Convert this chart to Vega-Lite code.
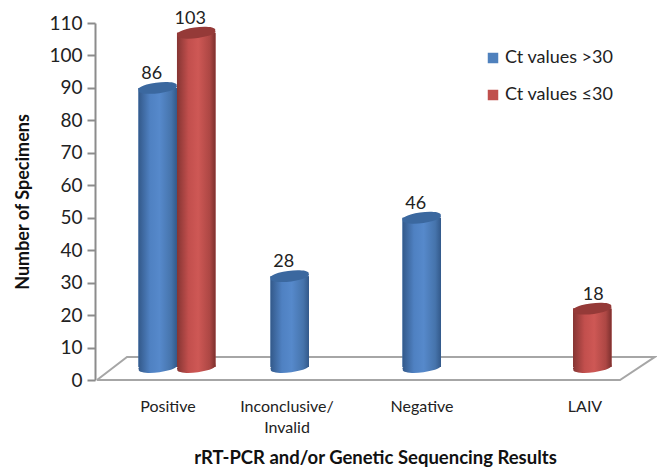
{
"$schema":"https://vega.github.io/schema/vega-lite/v6.json",
"width":560,"height":357,"autosize":{"type":"none"},
"padding":{"left":95,"top":23,"right":2,"bottom":88},
"background":"white",
"config":{"view":{"stroke":null},"font":"Lato"},
"datasets":{
"bars":[
{"result":"Positive","series":"Ct values >30","value":86},
{"result":"Positive","series":"Ct values ≤30","value":103},
{"result":"Inconclusive/\nInvalid","series":"Ct values >30","value":28},
{"result":"Negative","series":"Ct values >30","value":46},
{"result":"LAIV","series":"Ct values ≤30","value":18}],
"floor":[{"i":0,"fx":2,"fy":0},{"i":1,"fx":525,"fy":0},{"i":2,"fx":560,"fy":7.1},{"i":3,"fx":32,"fy":7.1},{"i":4,"fx":2,"fy":0}]
},
"resolve":{"scale":{"x":"independent"},"axis":{"x":"independent"}},
"layer":[
{"data":{"name":"floor"},
 "mark":{"type":"line","color":"#a6a6a6","strokeWidth":2},
 "encoding":{"x":{"field":"fx","type":"quantitative","scale":{"domain":[0,560]},"axis":null},
 "y":{"field":"fy","type":"quantitative","scale":{"domain":[0,110]},
   "axis":{"title":"Number of Specimens","titleFontSize":18,"titleFontWeight":"bold","titleColor":"#111","titlePadding":16,
    "values":[0,10,20,30,40,50,60,70,80,90,100,110],"grid":false,"domainColor":"#8c8c8c","domainWidth":2,"tickColor":"#8c8c8c","tickWidth":2,"tickSize":8,"labelFontSize":19,"labelColor":"#222","labelPadding":5}},
 "order":{"field":"i"}}},
{"data":{"name":"bars"},
 "encoding":{
  "x":{"field":"result","type":"nominal","sort":["Positive","Inconclusive/\nInvalid","Negative","LAIV"],
   "scale":{"paddingInner":0,"paddingOuter":0.121},
   "axis":{"title":"rRT-PCR and/or Genetic Sequencing Results","titleFontSize":18.5,"titleFontWeight":"bold","titleColor":"#111","titlePadding":13,
     "domain":false,"ticks":false,"labelAngle":0,"labelFontSize":16,"labelColor":"#222","labelPadding":18,"labelLineHeight":21,
     "labelExpr":"split(datum.label,'\\n')",
     "labelOffset":{"condition":[{"test":"datum.value=='Positive'","value":-9},{"test":"datum.value=='Negative'","value":-19},{"test":"datum.value=='LAIV'","value":12}],"value":-22}}},
  "xOffset":{"field":"series","type":"nominal","scale":{"paddingInner":0,"paddingOuter":0.714}},
  "y":{"field":"value","type":"quantitative","scale":{"domain":[0,110]},
   "axis":{"title":"Number of Specimens","titleFontSize":18,"titleFontWeight":"bold","titleColor":"#111","titlePadding":16,
    "values":[0,10,20,30,40,50,60,70,80,90,100,110],"grid":false,"domainColor":"#8c8c8c","domainWidth":2,"tickColor":"#8c8c8c","tickWidth":2,"tickSize":8,"labelFontSize":19,"labelColor":"#222","labelPadding":5}}
 },
 "layer":[
  {"mark":{"type":"bar","yOffset":-13,"y2Offset":-13},
   "encoding":{"y2":{"datum":0},
    "color":{"field":"series","type":"nominal","scale":{"domain":["Ct values >30","Ct values ≤30"],"range":["#4f81bd","#c0504d"]},
     "legend":{"title":null,"orient":"none","legendX":389,"legendY":26,"symbolType":"square","symbolSize":110,"labelFontSize":18,"labelColor":"#222","rowPadding":19,"labelOffset":3}}}},
  {"transform":[{"filter":"datum.series=='Ct values >30'"}],
   "mark":{"type":"bar","yOffset":-13,"y2Offset":-13,"color":{"gradient":"linear","x1":0,"x2":1,"y1":0,"y2":0,"stops":[{"offset":0,"color":"#33598a"},{"offset":0.3,"color":"#4f81c2"},{"offset":0.55,"color":"#5689cb"},{"offset":0.85,"color":"#4674ac"},{"offset":1,"color":"#33598a"}]}},
   "encoding":{"y2":{"datum":0}}},
  {"transform":[{"filter":"datum.series=='Ct values >30'"}],
   "mark":{"type":"point","filled":true,"opacity":1,"yOffset":-13,"size":1521,"shape":"M-0.97,0.12A0.99,0.24 -7 1 0 0.97,-0.12A0.99,0.24 -7 1 0 -0.97,0.12Z","color":{"gradient":"linear","x1":0,"x2":1,"y1":0,"y2":0,"stops":[{"offset":0,"color":"#33598a"},{"offset":0.3,"color":"#4f81c2"},{"offset":0.55,"color":"#5689cb"},{"offset":0.85,"color":"#4674ac"},{"offset":1,"color":"#33598a"}]}},
   "encoding":{"y":{"datum":0}}},
  {"transform":[{"filter":"datum.series=='Ct values ≤30'"}],
   "mark":{"type":"point","filled":true,"opacity":1,"yOffset":-13,"size":1521,"shape":"M-0.97,0.12A0.99,0.24 -7 1 0 0.97,-0.12A0.99,0.24 -7 1 0 -0.97,0.12Z","color":{"gradient":"linear","x1":0,"x2":1,"y1":0,"y2":0,"stops":[{"offset":0,"color":"#853533"},{"offset":0.3,"color":"#c24f4d"},{"offset":0.55,"color":"#ce5855"},{"offset":0.85,"color":"#ad4744"},{"offset":1,"color":"#7d302e"}]}},
   "encoding":{"y":{"datum":0}}},
  {"transform":[{"filter":"datum.series=='Ct values ≤30'"}],
   "mark":{"type":"bar","yOffset":-13,"y2Offset":-13,"color":{"gradient":"linear","x1":0,"x2":1,"y1":0,"y2":0,"stops":[{"offset":0,"color":"#853533"},{"offset":0.3,"color":"#c24f4d"},{"offset":0.55,"color":"#ce5855"},{"offset":0.85,"color":"#ad4744"},{"offset":1,"color":"#7d302e"}]}},
   "encoding":{"y2":{"datum":0}}},
  {"mark":{"type":"point","filled":true,"opacity":1,"yOffset":-13,"size":1521,"shape":"M-0.97,0.12A0.99,0.24 -7 1 0 0.97,-0.12A0.99,0.24 -7 1 0 -0.97,0.12Z"},
   "encoding":{"color":{"condition":{"test":"datum.series=='Ct values >30'","value":"#3b689f"},"value":"#953a38"}}},
  {"mark":{"type":"text","fontSize":18,"color":"#222","baseline":"middle","yOffset":-27,"dx":{"expr":"datum.value==18?1:-6"}},
   "encoding":{"text":{"field":"value","type":"quantitative"}}}
 ]}
]}
